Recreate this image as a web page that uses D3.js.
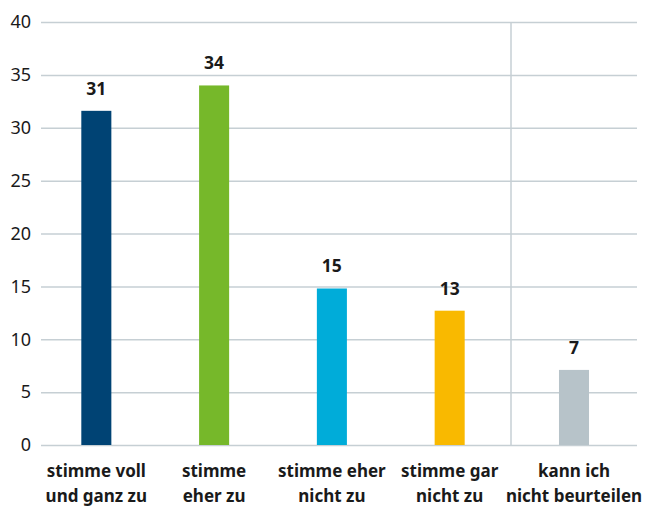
<!DOCTYPE html>
<html>
<head>
<meta charset="utf-8">
<script src="https://d3js.org/d3.v7.min.js"></script>
<style>
body { margin: 0; background: #fff; }
text { font-family: "Noto Sans", sans-serif; }
</style>
</head>
<body>
<div id="chart"></div>
<script>
// chart data
var categories = ["stimme voll|und ganz zu", "stimme|eher zu", "stimme eher|nicht zu", "stimme gar|nicht zu", "kann ich|nicht beurteilen"];
var values = [31.6, 34.0, 14.8, 12.7, 7.1];
var valueLabels = ["31", "34", "15", "13", "7"];
var colors = ["#004374", "#76b82a", "#00acd9", "#f9b900", "#b7c3c9"];
var yTicks = [0, 5, 10, 15, 20, 25, 30, 35, 40];

var width = 652, height = 507;
var margin = { top: 22, right: 15, bottom: 62, left: 41 };
var sepX = 511;

var svg = d3.select("#chart")
    .append("svg")
    .attr("width", width)
    .attr("height", height);

var y = d3.scaleLinear()
    .domain([0, 40])
    .range([height - margin.bottom, margin.top]);

// first four answers share one band scale, "kann ich nicht beurteilen" sits right of the divider
var xMain = d3.scaleBand()
    .domain(categories.slice(0, 4))
    .range([37.5, sepX - 2.5])
    .paddingInner(0.745)
    .paddingOuter(0.372);
var xRest = d3.scaleBand()
    .domain(categories.slice(4))
    .range([sepX, width - margin.right])
    .paddingInner(0)
    .paddingOuter(1.6);

function xPos(c) {
    return categories.indexOf(c) < 4 ? xMain(c) : xRest(c);
}
var barW = xMain.bandwidth();

// gridlines + y labels
var yAxis = svg.append("g")
    .attr("transform", "translate(" + margin.left + ",0)")
    .call(d3.axisLeft(y).tickValues(yTicks).tickSize(-(width - margin.left - margin.right)).tickPadding(10));
yAxis.select(".domain").remove();
yAxis.selectAll(".tick line")
    .attr("stroke", "#c6cfd4")
    .attr("stroke-width", 1.5);
yAxis.selectAll(".tick text")
    .attr("fill", "#1a1a1a")
    .style("font-size", "18px");

// divider
svg.append("line")
    .attr("x1", sepX).attr("x2", sepX)
    .attr("y1", y(40)).attr("y2", y(0))
    .attr("stroke", "#c6cfd4")
    .attr("stroke-width", 1.5);

// bars
svg.selectAll(".bar")
    .data(categories)
    .enter()
    .append("rect")
    .attr("class", "bar")
    .attr("x", function (d) { return xPos(d) + (categories.indexOf(d) < 4 ? 0 : (xRest.bandwidth() - barW) / 2); })
    .attr("y", function (d, i) { return y(values[i]); })
    .attr("width", barW)
    .attr("height", function (d, i) { return y(0) - y(values[i]); })
    .style("fill", function (d, i) { return colors[i]; });

function center(d) {
    var i = categories.indexOf(d);
    return i < 4 ? xMain(d) + barW / 2 : xRest(d) + xRest.bandwidth() / 2;
}

// value labels
svg.selectAll(".val")
    .data(categories)
    .enter()
    .append("text")
    .attr("class", "val")
    .attr("x", center)
    .attr("y", function (d, i) { return y(values[i]) - 16; })
    .attr("text-anchor", "middle")
    .style("font-size", "17.5px")
    .style("font-weight", "bold")
    .attr("fill", "#1a1a1a")
    .text(function (d, i) { return valueLabels[i]; });

// category labels, two lines each
var cat = svg.selectAll(".cat")
    .data(categories)
    .enter()
    .append("text")
    .attr("class", "cat")
    .attr("text-anchor", "middle")
    .style("font-size", "17px")
    .style("font-weight", "bold")
    .attr("fill", "#1a1a1a");
cat.selectAll("tspan")
    .data(function (d) { return d.split("|").map(function (t) { return { t: t, c: d }; }); })
    .enter()
    .append("tspan")
    .attr("x", function (d) { return center(d.c); })
    .attr("y", function (d, i) { return 477 + i * 25; })
    .text(function (d) { return d.t; });
</script>
</body>
</html>
